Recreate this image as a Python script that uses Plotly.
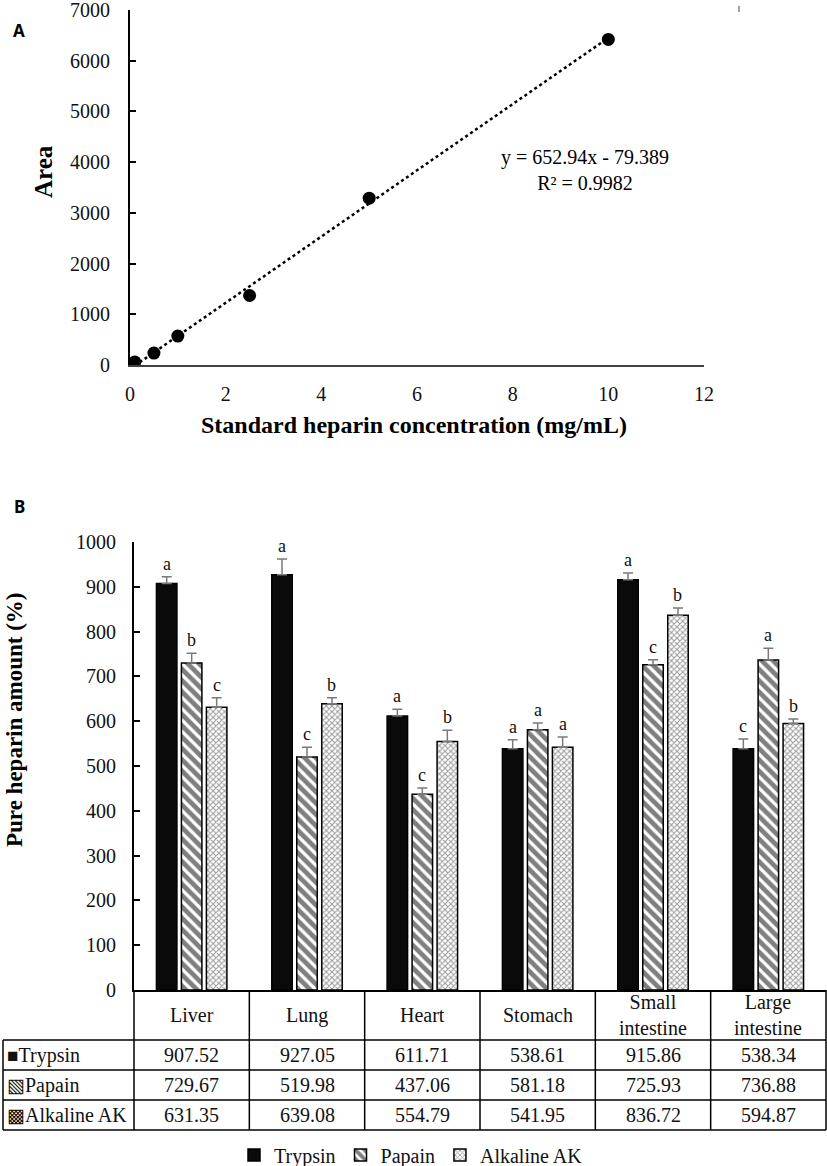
import plotly.graph_objects as go

# ---------------- Data ----------------
std_conc = [0.1, 0.5, 1, 2.5, 5, 10]
area = [60, 235, 570, 1370, 3290, 6420]
slope = 652.94
intercept = -79.389
r2 = 0.9982

organs = ["Liver", "Lung", "Heart", "Stomach", "Small<br>intestine", "Large<br>intestine"]
enzymes = ["Trypsin", "Papain", "Alkaline AK"]
trypsin = [907.52, 927.05, 611.71, 538.61, 915.86, 538.34]
papain = [729.67, 519.98, 437.06, 581.18, 725.93, 736.88]
alkaline = [631.35, 639.08, 554.79, 541.95, 836.72, 594.87]
trypsin_err = [15, 35, 15, 20, 15, 22]
papain_err = [22, 22, 14, 15, 11, 26]
alkaline_err = [21, 13, 25, 23, 16, 10]
trypsin_sig = ["a", "a", "a", "a", "a", "c"]
papain_sig = ["b", "c", "c", "a", "c", "a"]
alkaline_sig = ["c", "b", "b", "a", "b", "b"]

W, H = 827, 1166
SERIF = "Liberation Serif"


def px(x):
    return x / W


def py(y):
    return 1 - y / H


fig = go.Figure()

# ---------------- Panel A ----------------
fig.add_trace(go.Scatter(
    x=[min(std_conc), max(std_conc)],
    y=[slope * min(std_conc) + intercept, slope * max(std_conc) + intercept],
    mode="lines", line=dict(color="black", width=2.5, dash="dot"),
    xaxis="x", yaxis="y", showlegend=False, hoverinfo="skip"))
fig.add_trace(go.Scatter(
    x=std_conc, y=area, mode="markers",
    marker=dict(color="black", size=13),
    xaxis="x", yaxis="y", showlegend=False))

# ---------------- Panel B ----------------
series = [
    (enzymes[0], trypsin, trypsin_err, dict(color="#0a0a0a", line=dict(color="black", width=1.5))),
    (enzymes[1], papain, papain_err, dict(color="white", line=dict(color="black", width=1.5),
                                          pattern=dict(shape="\\", fgcolor="black", bgcolor="white",
                                                       size=8, solidity=0.6))),
    (enzymes[2], alkaline, alkaline_err, dict(color="white", line=dict(color="black", width=1.5),
                                              pattern=dict(shape="x", fgcolor="#333333", bgcolor="white",
                                                           size=4, solidity=0.45))),
]
xcat = list(range(len(organs)))
for name, vals, err, mk in series:
    fig.add_trace(go.Bar(
        x=xcat, y=vals, name=name, marker=mk,
        error_y=dict(type="data", array=err, arrayminus=[0] * len(err), symmetric=False,
                     color="#7a7a7a", thickness=1.5, width=5),
        xaxis="x2", yaxis="y2"))

bargap = 0.35
bargroupgap = 0.18
slot = (1 - bargap) / 3
annotations = []
for k, (vals, err, sig) in enumerate([(trypsin, trypsin_err, trypsin_sig),
                                      (papain, papain_err, papain_sig),
                                      (alkaline, alkaline_err, alkaline_sig)]):
    off = (k - 1) * slot
    for i in range(len(organs)):
        annotations.append(dict(
            x=i + off, y=vals[i] + err[i], xref="x2", yref="y2",
            text=sig[i], showarrow=False, xanchor="center", yanchor="bottom", yshift=1,
            font=dict(family=SERIF, size=18, color="#111")))

# ---------------- Layout geometry ----------------
A_x0, A_x1, A_y0, A_y1 = 130, 704, 10, 365
B_x0, B_x1, B_y0, B_y1 = 134, 826, 542, 990

# ---------------- Table ----------------
shapes = []
line_style = dict(color="black", width=1.5)
ncol = len(organs)
colw = (B_x1 - B_x0) / ncol
col_edges = [B_x0 + i * colw for i in range(ncol + 1)]
row_edges = [990, 1040, 1070, 1100, 1130]
lab_x0 = 3
for r in row_edges[1:]:
    shapes.append(dict(type="line", xref="paper", yref="paper", x0=px(lab_x0), x1=px(B_x1),
                       y0=py(r), y1=py(r), line=line_style))
for j, cx in enumerate(col_edges):
    shapes.append(dict(type="line", xref="paper", yref="paper", x0=px(cx), x1=px(cx),
                       y0=py(row_edges[0]), y1=py(row_edges[-1]), line=line_style))
shapes.append(dict(type="line", xref="paper", yref="paper", x0=px(lab_x0), x1=px(lab_x0),
                   y0=py(row_edges[1]), y1=py(row_edges[-1]), line=line_style))

for i, org in enumerate(organs):
    cx = (col_edges[i] + col_edges[i + 1]) / 2
    annotations.append(dict(x=px(cx), y=py((row_edges[0] + row_edges[1]) / 2), xref="paper", yref="paper",
                            text=org, showarrow=False, xanchor="center", yanchor="middle",
                            font=dict(family=SERIF, size=20, color="#111")))
row_syms = ["■", "▧", "▩"]
for r, (name, vals) in enumerate(zip(enzymes, [trypsin, papain, alkaline])):
    cy = (row_edges[r + 1] + row_edges[r + 2]) / 2
    annotations.append(dict(x=px(lab_x0 + 2), y=py(cy), xref="paper", yref="paper",
                            text=f"<span style='font-size:19px'>{row_syms[r]}</span>{name}",
                            showarrow=False, xanchor="left", yanchor="middle",
                            font=dict(family=SERIF, size=20, color="#111")))
    for i, v in enumerate(vals):
        cx = (col_edges[i] + col_edges[i + 1]) / 2
        annotations.append(dict(x=px(cx), y=py(cy), xref="paper", yref="paper",
                                text=f"{v:.2f}", showarrow=False, xanchor="center", yanchor="middle",
                                font=dict(family=SERIF, size=20, color="#111")))


# ---------------- Titles / labels ----------------
def label(x, y, text, size, family=SERIF, angle=0):
    return dict(x=px(x), y=py(y), xref="paper", yref="paper", text=text, showarrow=False,
                xanchor="center", yanchor="middle", textangle=angle,
                font=dict(family=family, size=size, color="black"))


annotations += [
    label(19, 31, "<b>A</b>", 17, "Noto Sans"),
    label(19, 506, "<b>B</b>", 17, "Noto Sans"),
    label(43, 172, "<b>Area</b>", 25, angle=-90),
    label(414, 425, "<b>Standard heparin concentration (mg/mL)</b>", 24),
    label(14, 720, "<b>Pure heparin amount (%)</b>", 23, angle=-90),
    label(585, 170, f"y = {slope}x - {abs(intercept)}<br>R² = {r2}", 20),
]
shapes.append(dict(type="line", xref="paper", yref="paper", x0=px(739), x1=px(739),
                   y0=py(6), y1=py(12), line=dict(color="#444", width=1)))

tickfont = dict(family=SERIF, size=20, color="#111")
fig.update_layout(
    width=W, height=H,
    margin=dict(l=0, r=0, t=0, b=0, autoexpand=False),
    paper_bgcolor="white", plot_bgcolor="white",
    barmode="group", bargap=bargap, bargroupgap=bargroupgap,
    xaxis=dict(domain=[px(A_x0), px(A_x1)], range=[0, 12], dtick=2, showgrid=False, zeroline=False,
               showline=True, linecolor="#404040", linewidth=2, ticks="", tickfont=tickfont,
               ticklabelstandoff=10, anchor="y", automargin=False, ticklabeloverflow="allow"),
    yaxis=dict(domain=[py(A_y1), py(A_y0)], range=[0, 7000], dtick=1000, showgrid=False, zeroline=False,
               showline=True, linecolor="black", linewidth=2, ticks="inside", ticklen=6, tickwidth=2,
               tickcolor="black", tickfont=tickfont, ticklabelstandoff=14, anchor="x", automargin=False,
               ticklabeloverflow="allow"),
    xaxis2=dict(domain=[px(B_x0), px(B_x1)], range=[-0.5, ncol - 0.5], showgrid=False, zeroline=False,
                showline=True, linecolor="black", linewidth=1.5, ticks="", showticklabels=False,
                anchor="y2", automargin=False),
    yaxis2=dict(domain=[py(B_y1), py(B_y0)], range=[0, 1000], dtick=100, showgrid=False, zeroline=False,
                showline=True, linecolor="black", linewidth=2, ticks="inside", ticklen=6, tickwidth=2,
                tickcolor="black", tickfont=tickfont, ticklabelstandoff=12, anchor="x2", automargin=False,
                ticklabeloverflow="allow"),
    legend=dict(orientation="h", x=px(411), y=py(1155), xanchor="center", yanchor="middle",
                font=dict(family=SERIF, size=20, color="#111"), itemwidth=30,
                bgcolor="rgba(0,0,0,0)"),
    annotations=annotations,
    shapes=shapes,
)

fig.write_html("out.html", config={"displayModeBar": False},
               post_script="document.body.style.margin='0px';document.body.style.overflow='hidden';")
